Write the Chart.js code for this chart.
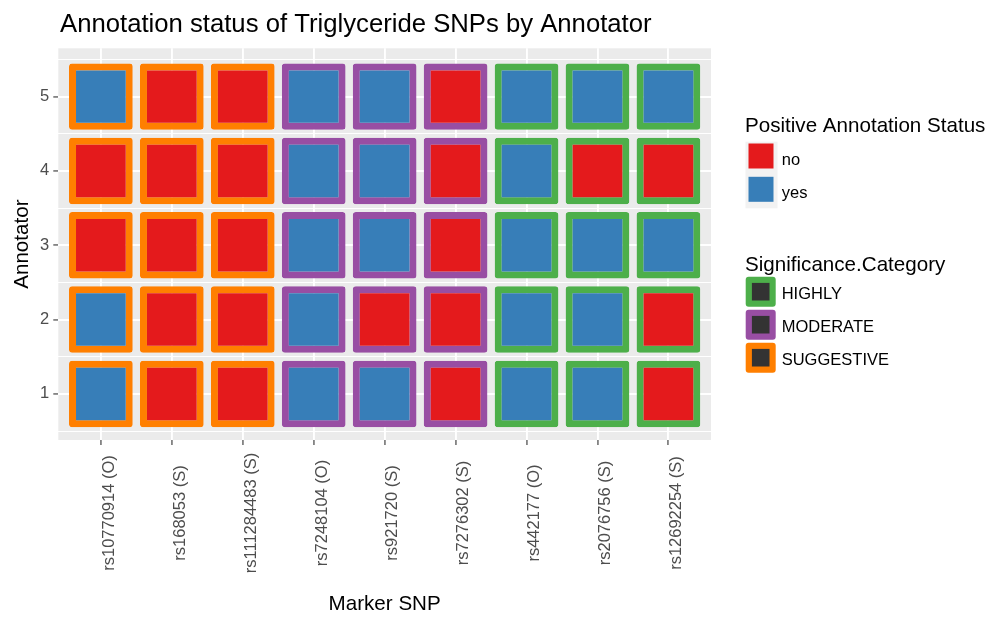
<!DOCTYPE html>
<html>
<head>
<meta charset="utf-8">
<title>Annotation status of Triglyceride SNPs by Annotator</title>
<script src="https://cdn.jsdelivr.net/npm/chart.js@4.4.1/dist/chart.umd.min.js"></script>
<style>
  body { margin: 0; background: #fff; }
  canvas { display: block; }
</style>
</head>
<body>
<canvas id="grafico" width="989" height="618"></canvas>
<script>
// data
const snps = ['rs10770914 (O)', 'rs168053 (S)', 'rs111284483 (S)', 'rs7248104 (O)', 'rs921720 (S)',
  'rs7276302 (S)', 'rs442177 (O)', 'rs2076756 (S)', 'rs12692254 (S)'];
const significance = ['SUGGESTIVE', 'SUGGESTIVE', 'SUGGESTIVE', 'MODERATE', 'MODERATE', 'MODERATE',
  'HIGHLY', 'HIGHLY', 'HIGHLY'];
const annotators = [1, 2, 3, 4, 5];
const annotator1 = ['yes', 'no', 'no', 'yes', 'yes', 'no', 'yes', 'yes', 'no'];
const annotator2 = ['yes', 'no', 'no', 'yes', 'no', 'no', 'yes', 'yes', 'no'];
const annotator3 = ['no', 'no', 'no', 'yes', 'yes', 'no', 'yes', 'yes', 'yes'];
const annotator4 = ['no', 'no', 'no', 'yes', 'yes', 'no', 'yes', 'no', 'no'];
const annotator5 = ['yes', 'no', 'no', 'yes', 'yes', 'no', 'yes', 'yes', 'yes'];
const statusRows = [annotator1, annotator2, annotator3, annotator4, annotator5];
const statusLevels = ['no', 'yes'];
const significanceLevels = ['HIGHLY', 'MODERATE', 'SUGGESTIVE'];

// styles
const FONT = '"Liberation Sans", Arial, sans-serif';
const statusColors = { no: '#E41A1C', yes: '#377EB8' };
const sigColors = { HIGHLY: '#4DAF4A', MODERATE: '#984EA3', SUGGESTIVE: '#FF7F00' };
const tileHalf = 0.447; // half tile height in y units (border included)

Chart.defaults.font.family = FONT;

const datasets = annotators.map((a, r) => ({
  label: 'Annotator ' + a,
  data: snps.map((s, i) => ({ x: i + 1, y: [a - tileHalf, a + tileHalf] })),
  backgroundColor: statusRows[r].map(v => statusColors[v]),
  borderColor: significance.map(c => sigColors[c]),
  borderWidth: 7,
  borderRadius: 3,
  borderSkipped: false,
  grouped: false,
  barPercentage: 0.898,
  categoryPercentage: 1
}));

const panelBg = {
  id: 'panelBg',
  beforeDraw(chart) {
    const { ctx, chartArea: a } = chart;
    ctx.save();
    ctx.fillStyle = '#FFFFFF';
    ctx.fillRect(0, 0, chart.width, chart.height);
    ctx.fillStyle = '#EBEBEB';
    ctx.fillRect(a.left, a.top, a.right - a.left, a.bottom - a.top);
    ctx.restore();
  }
};

// title, rotated x labels and the two ggplot-like legends
const decor = {
  id: 'decor',
  afterDraw(chart) {
    const ctx = chart.ctx;
    ctx.save();

    ctx.fillStyle = '#000000';
    ctx.font = '25.7px ' + FONT;
    ctx.textAlign = 'left';
    ctx.textBaseline = 'alphabetic';
    ctx.fillText('Annotation status of Triglyceride SNPs by Annotator', 60, 31.7);

    const xs = chart.scales.x;
    ctx.fillStyle = '#4D4D4D';
    ctx.font = '16.5px ' + FONT;
    snps.forEach((s, i) => {
      ctx.save();
      ctx.translate(xs.getPixelForValue(i + 1), 513);
      ctx.rotate(-Math.PI / 2);
      ctx.textAlign = 'center';
      ctx.textBaseline = 'top';
      ctx.fillText(s, 0, 0);
      ctx.restore();
    });

    // legend: Positive Annotation Status
    ctx.textAlign = 'left';
    ctx.textBaseline = 'alphabetic';
    ctx.fillStyle = '#000000';
    ctx.font = '20.6px ' + FONT;
    ctx.fillText('Positive Annotation Status', 745, 132.4);
    ctx.font = '16.5px ' + FONT;
    statusLevels.forEach((lv, k) => {
      const top = 141.7 + k * 33.3;
      ctx.fillStyle = '#F2F2F2';
      ctx.fillRect(745.5, top, 32, 33.3);
      ctx.fillStyle = statusColors[lv];
      ctx.fillRect(748.5, top + 1.8, 25, 25);
      ctx.fillStyle = '#000000';
      ctx.fillText(lv, 781.7, top + 16.6 + 6.5);
    });

    // legend: Significance.Category
    ctx.font = '20.6px ' + FONT;
    ctx.fillText('Significance.Category', 745, 270.5);
    ctx.font = '16.5px ' + FONT;
    significanceLevels.forEach((lv, k) => {
      const top = 276.7 + k * 33;
      ctx.fillStyle = sigColors[lv];
      ctx.beginPath();
      ctx.roundRect(745.7, top, 30, 30, 3);
      ctx.fill();
      ctx.fillStyle = '#333333';
      ctx.fillRect(751.9, top + 6.2, 17.6, 17.6);
      ctx.fillStyle = '#000000';
      ctx.fillText(lv, 781.7, top + 15 + 7);
    });

    ctx.restore();
  }
};

const yTicks = annotators.flatMap(a => [a - 0.5, a]).concat(annotators[annotators.length - 1] + 0.5);

new Chart(document.getElementById('grafico'), {
  type: 'bar',
  data: { datasets },
  options: {
    responsive: false,
    animation: false,
    events: [],
    layout: { padding: { left: 0, right: 278, top: 48.3, bottom: 0 } },
    plugins: {
      legend: { display: false },
      tooltip: { enabled: false },
      title: { display: false }
    },
    scales: {
      x: {
        type: 'linear',
        min: 0.4,
        max: 9.6,
        offset: false,
        afterBuildTicks: s => { s.ticks = snps.map((_, i) => ({ value: i + 1 })); },
        afterFit: s => { s.height = 178; },
        border: { display: false },
        grid: {
          offset: false,
          color: '#FFFFFF',
          lineWidth: 1.9,
          tickColor: '#333333',
          tickWidth: 1.1,
          tickLength: 5
        },
        ticks: { display: false },
        title: {
          display: true,
          text: 'Marker SNP',
          color: '#000000',
          font: { size: 20.6, lineHeight: 1 },
          padding: { top: 0, bottom: 3 }
        }
      },
      y: {
        min: 0.38,
        max: 5.65,
        afterBuildTicks: s => { s.ticks = yTicks.map(v => ({ value: v })); },
        afterFit: s => { s.width = 58.3; },
        border: { display: false },
        grid: {
          color: '#FFFFFF',
          lineWidth: c => Number.isInteger(c.tick.value) ? 1.9 : 1,
          tickColor: c => Number.isInteger(c.tick.value) ? '#333333' : 'rgba(0,0,0,0)',
          tickWidth: 1.1,
          tickLength: 5
        },
        ticks: {
          color: '#4D4D4D',
          font: { size: 16.5 },
          padding: 4,
          callback: v => Number.isInteger(v) ? String(v) : ''
        },
        title: {
          display: true,
          text: 'Annotator',
          color: '#000000',
          font: { size: 20.6, lineHeight: 1 },
          padding: { top: 12, bottom: 0 }
        }
      }
    }
  },
  plugins: [panelBg, decor]
});
</script>
</body>
</html>
